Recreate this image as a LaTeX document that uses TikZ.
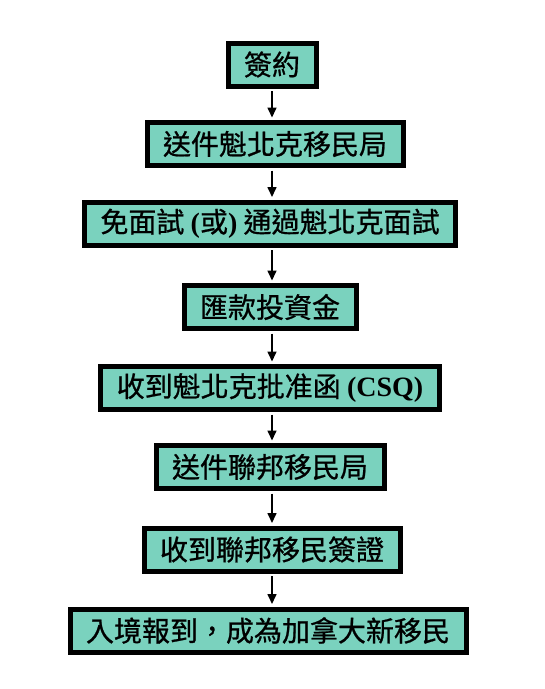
\documentclass[tikz,border=0pt]{standalone}
\usepackage{fontspec}
\setmainfont{Liberation Serif}
\newfontfamily\cjk[FakeBold=0.8]{Noto Sans CJK TC}
\usetikzlibrary{arrows.meta,positioning}
\definecolor{boxteal}{RGB}{122,210,190}
\tikzset{
    stepbox/.style={draw=black,line width=5pt,fill=boxteal,
        inner xsep=16pt,inner ysep=0pt,minimum height=43pt,
        font=\fontsize{28}{32}\selectfont\cjk},
    flow/.style={-{Triangle[length=10pt,width=9pt]},line width=1.6pt,
        shorten <=2.5pt,shorten >=2.5pt},
}
\newcommand{\ltn}[1]{{\rmfamily\bfseries #1}}
\begin{document}
\begin{tikzpicture}[x=1pt,y=-1pt]
\useasboundingbox (0,0) rectangle (545,689);

% steps
\node[stepbox] (sign)   at (272,64.5) {簽約};
\node[stepbox] (quebec) at (275,144)  {送件魁北克移民局};
\node[stepbox] (interv) at (270,223.5){免面試 \ltn{(}或\ltn{)} 通過魁北克面試};
\node[stepbox] (fund)   at (270,307)  {匯款投資金};
\node[stepbox] (csq)    at (270,388)  {收到魁北克批准函 \ltn{(CSQ)}};
\node[stepbox] (federal)at (270,467)  {送件聯邦移民局};
\node[stepbox] (visa)   at (272,549.5){收到聯邦移民簽證};
\node[stepbox] (land)   at (268,630.5){入境報到，成為加拿大新移民};

% arrows
\foreach \a/\b in {sign/quebec,quebec/interv,interv/fund,fund/csq,
    csq/federal,federal/visa,visa/land}
    \draw[flow] (\a.south -| 272,0) -- (\b.north -| 272,0);

\end{tikzpicture}
\end{document}
